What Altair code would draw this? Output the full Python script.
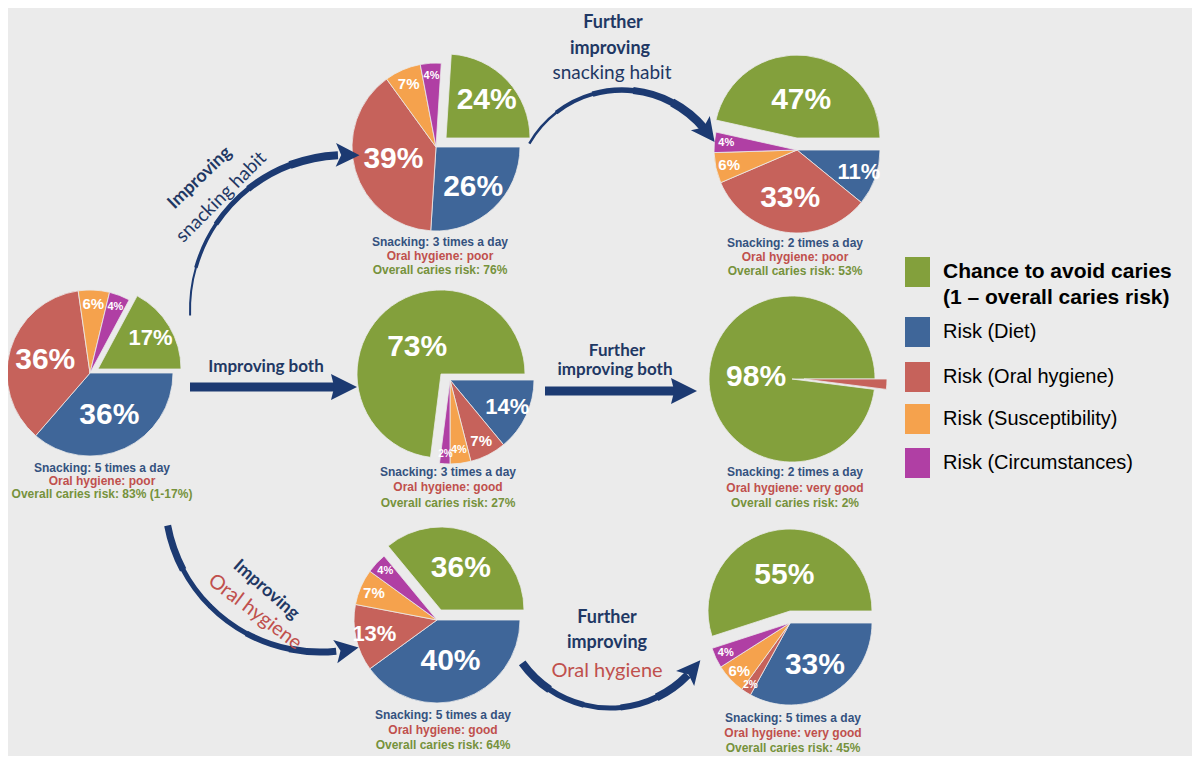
import math
import altair as alt
import pandas as pd

# ---------------- data ----------------
CATEGORIES = ["Chance to avoid caries", "Risk (Diet)", "Risk (Oral hygiene)",
              "Risk (Susceptibility)", "Risk (Circumstances)"]
LEGEND_LABELS = ["Chance to avoid caries\n(1 \u2013 overall caries risk)", "Risk (Diet)",
                 "Risk (Oral hygiene)", "Risk (Susceptibility)", "Risk (Circumstances)"]
PIES = ["5x poor", "3x poor", "2x poor", "3x good", "2x very good", "5x good", "5x very good"]
CHANCE = [17, 24, 47, 73, 98, 36, 55]
DIET = [36, 26, 11, 14, 0, 40, 33]
ORAL = [36, 39, 33, 7, 2, 13, 2]
SUSCEPTIBILITY = [6, 7, 6, 4, 0, 7, 6]
CIRCUMSTANCES = [4, 4, 4, 2, 0, 4, 4]
SNACKING = ["Snacking: 5 times a day", "Snacking: 3 times a day", "Snacking: 2 times a day",
            "Snacking: 3 times a day", "Snacking: 2 times a day", "Snacking: 5 times a day",
            "Snacking: 5 times a day"]
HYGIENE = ["Oral hygiene: poor", "Oral hygiene: poor", "Oral hygiene: poor", "Oral hygiene: good",
           "Oral hygiene: very good", "Oral hygiene: good", "Oral hygiene: very good"]
OVERALL = ["Overall caries risk: 83% (1-17%)", "Overall caries risk: 76%", "Overall caries risk: 53%",
           "Overall caries risk: 27%", "Overall caries risk: 2%", "Overall caries risk: 64%",
           "Overall caries risk: 45%"]
UNLABELLED = [("2x very good", "Risk (Oral hygiene)")]
STACK_ORDER = [1, 2, 3, 4, 0]  # slices clockwise from 3 o'clock: risks, then chance

rows = []
for i, p in enumerate(PIES):
    vals = [CHANCE[i], DIET[i], ORAL[i], SUSCEPTIBILITY[i], CIRCUMSTANCES[i]]
    total = float(sum(vals))
    cum = 0.0
    for k in STACK_ORDER:
        v = vals[k]
        rows.append(dict(pie=p, cat=CATEGORIES[k], value=v,
                         start=cum / total, end=(cum + v) / total, mid=(cum + v / 2) / total,
                         label=f"{v}%", show=bool(v > 0 and (p, CATEGORIES[k]) not in UNLABELLED)))
        cum += v
df = pd.DataFrame(rows)
captions = pd.DataFrame({"pie": PIES, "snack": SNACKING, "hyg": HYGIENE, "risk": OVERALL})
legend_df = pd.DataFrame({"cat": CATEGORIES, "label": LEGEND_LABELS})
DUMMY = pd.DataFrame({"d": [0]})

# ---------------- styles / layout ----------------
BG = "#ebebeb"
NAVY = "#1c3a72"
TXT_NAVY = "#1f3864"
RED_TXT = "#c0504d"
COLORS = ["#83a03c", "#3f6699", "#c6625b", "#f5a24d", "#b03fa4"]
FONT = "Liberation Sans"
AFONT = "Lato"

def P(v):
    return v - 8  # page px -> plot px

# center x, center y, radius, exploded part, offset, caption x, caption ys
LAYOUT = {
    "5x poor": (90, 373, 83, "chance", (8, -4), 102, (468, 481, 494)),
    "3x poor": (436, 147, 84, "chance", (10, -9), 440, (242, 256, 270)),
    "2x poor": (797, 150, 83, "chance", (0, -12), 795, (243, 257, 271)),
    "3x good": (441, 374, 84, "rest", (9, 6), 448, (472, 487, 503)),
    "2x very good": (792, 379, 83, "rest", (12, 0), 795, (472, 488, 503)),
    "5x good": (437, 620, 83, "chance", (4, -10), 443, (715, 730, 745)),
    "5x very good": (790, 623, 82, "chance", (0, -12), 793, (718, 733, 748)),
}

THETA_SCALE = alt.Scale(domain=[0, 1], range=[math.pi / 2, math.pi / 2 + 2 * math.pi])
COLOR_SCALE = alt.Scale(domain=CATEGORIES, range=COLORS)
RADIUS_SCALE = alt.Scale(type="linear", domain=[2, 4, 50], range=[74, 71, 36], clamp=True)
SIZE_SCALE = alt.Scale(type="threshold", domain=[3, 5, 10, 20], range=[10, 11, 15, 22, 30])

layers = []
for p in PIES:
    cx, cy, r, part, (ox, oy), capx, capys = LAYOUT[p]
    base = alt.Chart(df).transform_filter(alt.datum.pie == p)
    for which in ["chance", "rest"]:
        if which == "chance":
            sub = base.transform_filter(alt.datum.cat == CATEGORIES[0])
        else:
            sub = base.transform_filter(alt.datum.cat != CATEGORIES[0])
        dx, dy = (ox, oy) if which == part else (0, 0)
        arcs = sub.transform_filter(alt.datum.value > 0).mark_arc(
            radius=r, stroke=BG, strokeWidth=0.8
        ).encode(
            x=alt.value(P(cx + dx)), y=alt.value(P(cy + dy)),
            theta=alt.Theta("start:Q", scale=THETA_SCALE, stack=False),
            theta2="end:Q",
            color=alt.Color("cat:N", scale=COLOR_SCALE, legend=None),
        )
        labels = sub.transform_filter(alt.datum.show).mark_text(
            font=FONT, fontWeight="bold", color="white", align="center", baseline="middle"
        ).encode(
            x=alt.value(P(cx + dx)), y=alt.value(P(cy + dy)),
            theta=alt.Theta("mid:Q", scale=THETA_SCALE, stack=False),
            radius=alt.Radius("value:Q", scale=RADIUS_SCALE),
            size=alt.Size("value:Q", scale=SIZE_SCALE, legend=None),
            text="label:N",
        )
        layers += [arcs, labels]
    capbase = alt.Chart(captions).transform_filter(alt.datum.pie == p)
    for field, col, yy in zip(["snack", "hyg", "risk"], ["#34527f", RED_TXT, "#76923c"], capys):
        layers.append(capbase.mark_text(font=FONT, fontWeight="bold", fontSize=12, color=col,
                                        align="center", baseline="middle").encode(
            x=alt.value(P(capx)), y=alt.value(P(yy)), text=f"{field}:N"))

# ---------------- arrows ----------------
HEAD = "M 1 0 L -1 -1 L -0.55 0 L -1 1 Z"

def curved_arrow(cx, cy, r, a0, a1, widths, head_deg, clockwise, head_size=560):
    out = []
    n = len(widths)
    lo, hi = min(a0, a1), max(a0, a1)
    seg = (hi - lo) / n
    for j, w in enumerate(widths):
        t0 = lo + j * seg
        t1 = lo + (j + 1) * seg + 0.4
        out.append(alt.Chart(DUMMY).mark_arc(
            color=NAVY, radius=r + w / 2, radius2=r - w / 2,
            theta=math.radians(t0), theta2=math.radians(t1)
        ).encode(x=alt.value(P(cx)), y=alt.value(P(cy))))
    hx = cx + r * math.sin(math.radians(head_deg))
    hy = cy - r * math.cos(math.radians(head_deg))
    ang = head_deg % 360 if clockwise else (head_deg + 180) % 360
    out.append(alt.Chart(DUMMY).mark_point(
        shape=HEAD, filled=True, color=NAVY, opacity=1, size=head_size, angle=ang, strokeWidth=0
    ).encode(x=alt.value(P(hx)), y=alt.value(P(hy))))
    return out

# widths listed from the low-angle end to the high-angle end
layers += curved_arrow(345, 310, 155, 268, 357, [2, 3.5, 5, 6.5, 8], 1, True)
layers += curved_arrow(622, 197, 107, 300, 410, [2.5, 4, 5.5, 7, 8.5], 53, True)
layers += curved_arrow(320, 497, 155, 174, 259, [7, 6, 5, 5, 7], 170, False)
layers += curved_arrow(610, 600, 108, 134, 234, [8, 6, 5, 6, 8], 130, False)

def straight_arrow(x0, x1, y, w, tip):
    return [
        alt.Chart(DUMMY).mark_rule(color=NAVY, strokeWidth=w).encode(
            x=alt.value(P(x0)), x2=alt.value(P(x1)), y=alt.value(P(y))),
        alt.Chart(DUMMY).mark_point(shape="M 1 0 L -1 -1 L -0.75 0 L -1 1 Z", filled=True, color=NAVY,
                                    opacity=1, size=676, strokeWidth=0).encode(
            x=alt.value(P(tip - 13)), y=alt.value(P(y))),
    ]

layers += straight_arrow(190, 340, 387, 9, 357)
layers += straight_arrow(545, 682, 391, 9, 697)

# ---------------- arrow texts ----------------
def txt(s, x, y, size, weight="bold", color=TXT_NAVY, angle=0, font=AFONT):
    kw = dict(font=font, fontSize=size, fontWeight=weight, color=color,
              align="center", baseline="middle", text=s)
    if angle:
        kw["angle"] = angle
    return alt.Chart(DUMMY).mark_text(**kw).encode(x=alt.value(P(x)), y=alt.value(P(y)))

layers += [
    txt("Improving", 200, 178, 18, angle=316),
    txt("snacking habit", 221, 197, 19, weight="normal", angle=315),
    txt("Further", 613, 23, 18),
    txt("improving", 610, 49, 18),
    txt("snacking habit", 612, 73, 19, weight="normal"),
    txt("Improving both", 266, 367, 17),
    txt("Further", 617, 351, 17),
    txt("improving both", 615, 370, 17),
    txt("Improving", 266, 590, 18, angle=41),
    txt("Oral hygiene", 255, 612, 20, weight="normal", color=RED_TXT, angle=37),
    txt("Further", 607, 618, 18),
    txt("improving", 607, 643, 18),
    txt("Oral hygiene", 607, 671, 20, weight="normal", color=RED_TXT),
]

# ---------------- legend ----------------
LEG_Y = [272, 332, 377, 419, 463]
for k, cat in enumerate(CATEGORIES):
    yc = LEG_Y[k]
    row = alt.Chart(legend_df).transform_filter(alt.datum.cat == cat)
    layers.append(row.mark_rect().encode(
        x=alt.value(P(905)), x2=alt.value(P(930)),
        y=alt.value(P(yc - 15)), y2=alt.value(P(yc + 15)),
        color=alt.Color("cat:N", scale=COLOR_SCALE, legend=None)))
    layers.append(row.mark_text(
        font=FONT, fontSize=21 if k == 0 else 20, fontWeight="bold" if k == 0 else "normal",
        color="black", align="left", baseline="middle", lineBreak="\n", lineHeight=26
    ).encode(x=alt.value(P(943)), y=alt.value(P(yc)), text="label:N"))

chart = alt.layer(*layers).properties(
    width=1184, height=748, background=BG, padding=0, autosize="none"
).configure_view(stroke=None)

chart.save("out.html", embed_options={"renderer": "svg", "actions": False})
